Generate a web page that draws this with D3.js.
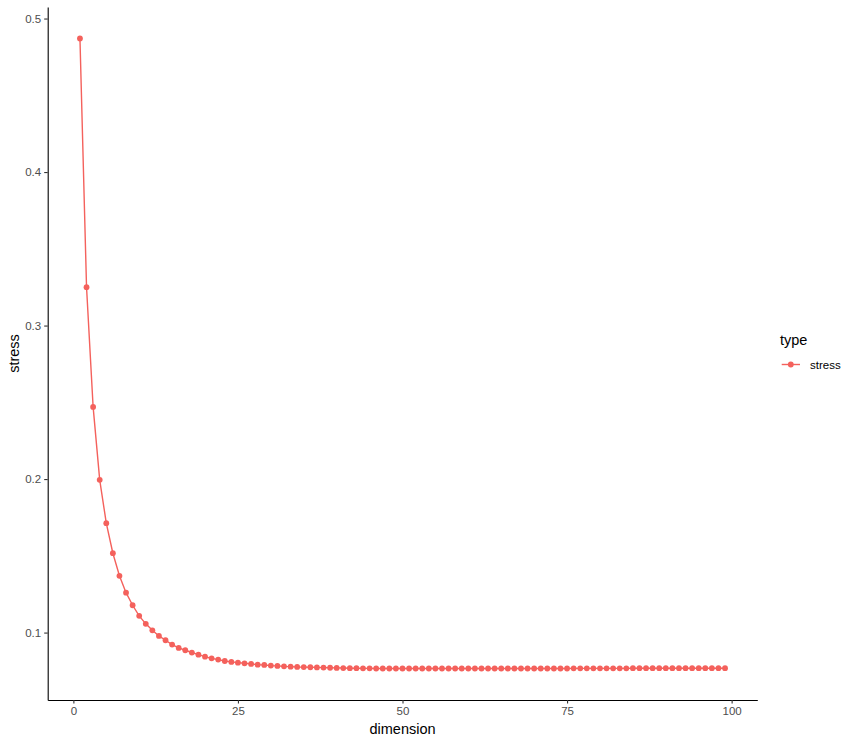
<!DOCTYPE html>
<html>
    <head>
        <meta charset="utf-8">
        <title>stress vs dimension</title>
        <style>
            body { margin: 0; background: #fff; }
            svg { font-family: "Liberation Sans", Arial, sans-serif; }
        </style>
    </head>
    <body>
        <svg id="chart" width="856" height="743"></svg>

        <script src="https://d3js.org/d3.v7.min.js"></script>
        <script>
            // valores (dimension 1..99)
            const dimension = d3.range(1, 100);
            const stress = [
                0.487, 0.325, 0.247, 0.1995, 0.1713, 0.1517, 0.137, 0.126, 0.1178, 0.1109,
                0.1057, 0.1015, 0.0978, 0.0950, 0.0922, 0.0900, 0.0885, 0.0870, 0.0856, 0.0843,
                0.0832, 0.0824, 0.0815, 0.0809, 0.0804, 0.0800, 0.0796, 0.0791, 0.0789, 0.0785,
                0.0783, 0.0780, 0.0778, 0.0776, 0.0775, 0.0774, 0.0773, 0.0772, 0.0771, 0.0770,
                0.0769, 0.0768, 0.0768, 0.0767, 0.0767, 0.0766, 0.0766, 0.0766, 0.0766, 0.0766,
                0.0766, 0.0766, 0.0766, 0.0766, 0.0766, 0.0766, 0.0766, 0.0766, 0.0766, 0.0766,
                0.0766, 0.0766, 0.0766, 0.0766, 0.0766, 0.0766, 0.0766, 0.0766, 0.0766, 0.0766,
                0.0766, 0.0766, 0.0766, 0.0766, 0.0766, 0.0767, 0.0767, 0.0767, 0.0767, 0.0767,
                0.0767, 0.0767, 0.0767, 0.0767, 0.0768, 0.0768, 0.0768, 0.0768, 0.0768, 0.0768,
                0.0768, 0.0768, 0.0768, 0.0768, 0.0768, 0.0768, 0.0768, 0.0768, 0.0768
            ];
            const xTicks = [0, 25, 50, 75, 100];
            const yTicks = [0.1, 0.2, 0.3, 0.4, 0.5];
            const seriesName = "stress";
            const legendTitle = "type";

            const data = dimension.map((d, i) => ({ x: d, y: stress[i] }));
            const cor = "#F4615C";

            const mLeft = 47.7, mRight = 757.3, mTop = 7, mBottom = 700;

            // expansão de 5% como no ggplot
            const xr = d3.extent(dimension), xpad = (xr[1] - xr[0]) * 0.05;
            const yr = d3.extent(stress), ypad = (yr[1] - yr[0]) * 0.05;

            const x = d3.scaleLinear()
                .domain([xr[0] - xpad, xr[1] + xpad])
                .range([mLeft, mRight]);

            const y = d3.scaleLinear()
                .domain([yr[0] - ypad, yr[1] + ypad])
                .range([mBottom, mTop]);

            const svg = d3.select("#chart");

            // eixos
            const gx = svg.append("g")
                .attr("transform", `translate(0,${mBottom})`)
                .call(d3.axisBottom(x).tickValues(xTicks).tickSize(3.5).tickSizeOuter(0).tickPadding(3));
            const gy = svg.append("g")
                .attr("transform", `translate(${mLeft},0)`)
                .call(d3.axisLeft(y).tickValues(yTicks).tickFormat(d3.format(".1f")).tickSize(3.5).tickSizeOuter(0).tickPadding(3));

            [gx, gy].forEach(g => {
                g.select(".domain").attr("stroke", "#000").attr("stroke-width", 1.1);
                g.selectAll(".tick line").attr("stroke", "#333").attr("stroke-width", 1.1);
                g.selectAll(".tick text")
                    .attr("fill", "#4d4d4d")
                    .style("font-size", "11.5px")
                    .style("font-family", "'Liberation Sans', Arial, sans-serif");
            });

            // linha + pontos
            svg.append("path")
                .datum(data)
                .attr("fill", "none")
                .attr("stroke", cor)
                .attr("stroke-width", 1.4)
                .attr("d", d3.line().x(d => x(d.x)).y(d => y(d.y)));

            svg.append("g")
                .selectAll("circle")
                .data(data)
                .enter().append("circle")
                  .attr("cx", d => x(d.x))
                  .attr("cy", d => y(d.y))
                  .attr("r", 2.9)
                  .attr("fill", cor);

            // títulos
            svg.append("text")
                .attr("x", (mLeft + mRight) / 2)
                .attr("y", 734)
                .attr("text-anchor", "middle")
                .style("font-size", "14.5px")
                .text("dimension");

            svg.append("text")
                .attr("transform", `translate(19,${(mTop + mBottom) / 2}) rotate(-90)`)
                .attr("text-anchor", "middle")
                .style("font-size", "14.5px")
                .text("stress");

            // legenda
            const lg = svg.append("g").attr("transform", "translate(780,0)");
            lg.append("text")
                .attr("x", 0).attr("y", 345)
                .style("font-size", "14.5px")
                .text(legendTitle);
            lg.append("line")
                .attr("x1", 1.7).attr("x2", 20)
                .attr("y1", 364.5).attr("y2", 364.5)
                .attr("stroke", cor).attr("stroke-width", 1.4);
            lg.append("circle")
                .attr("cx", 10.8).attr("cy", 364.5).attr("r", 2.9)
                .attr("fill", cor);
            lg.append("text")
                .attr("x", 30).attr("y", 368.5)
                .style("font-size", "11.5px")
                .attr("fill", "#000")
                .text(seriesName);
        </script>
    </body>
</html>
